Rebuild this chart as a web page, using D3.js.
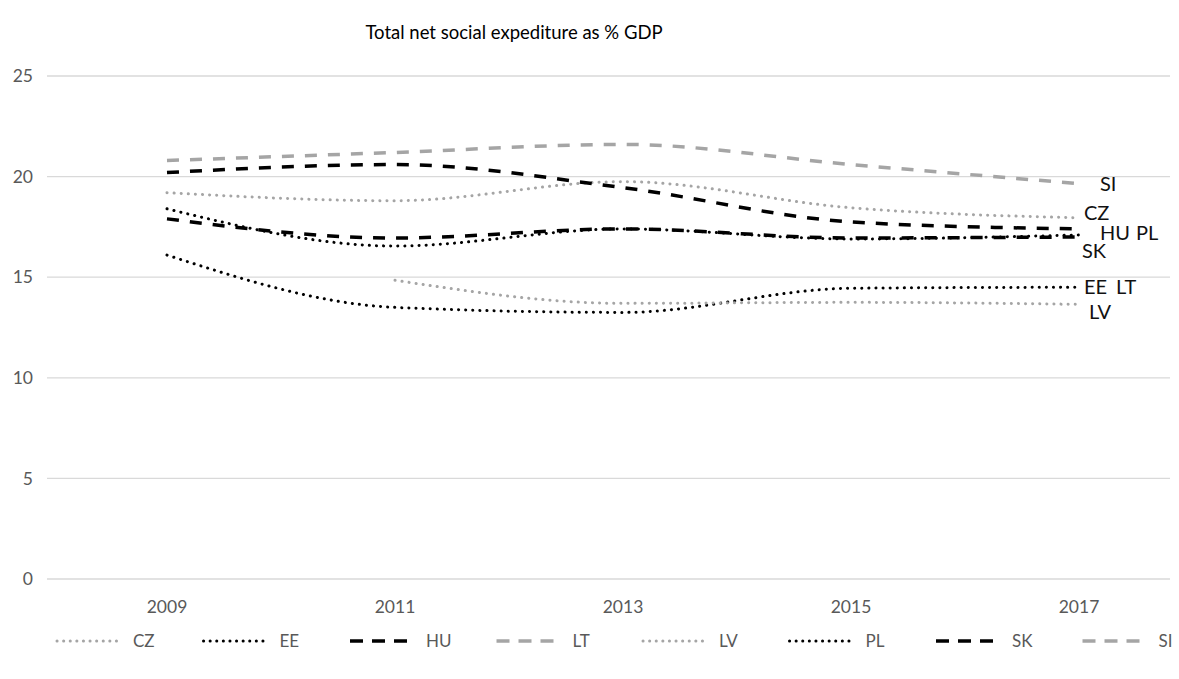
<!DOCTYPE html>
<meta charset="utf-8">

<style>
body { margin: 0; background: #fff; }
svg text { font-family: Lato, "Open Sans", sans-serif; }
.tick-label { fill: #595959; font-size: 17.5px; }
.legend text { fill: #595959; font-size: 17px; }
.title { font-size: 18.5px; fill: #000; }
.end-label { font-size: 20px; fill: #111; }
</style>

<svg class="chart" width="1179" height="679"></svg>

<script src="https://d3js.org/d3.v7.min.js"></script>

<script>

// data
var years = ["2009", "2011", "2013", "2015", "2017"];
var yTicks = [0, 5, 10, 15, 20, 25];
var countries = ["CZ", "EE", "HU", "LT", "LV", "PL", "SK", "SI"];

var CZ = [19.2, 18.8, 19.75, 18.45, 17.95];
var EE = [16.1, 13.5, 13.25, 14.45, 14.5];
var HU = [20.2, 20.6, 19.45, 17.75, 17.4];
var LT = [null, null, null, null, 14.5];
var LV = [null, 14.85, 13.7, 13.75, 13.65];
var PL = [18.4, 16.55, 17.4, 16.9, 17.1];
var SK = [17.9, 16.95, 17.4, 16.95, 17.0];
var SI = [20.8, 21.2, 21.6, 20.6, 19.65];

var values = { CZ: CZ, EE: EE, HU: HU, LT: LT, LV: LV, PL: PL, SK: SK, SI: SI };

// styles
var grey = "#A5A5A5";
var styles = {
  CZ: { color: grey,   dash: "0.1 7",  cap: "round", width: 3 },
  EE: { color: "#000", dash: "0.1 7",  cap: "round", width: 3 },
  HU: { color: "#000", dash: "12 11",  cap: "butt",  width: 3.5 },
  LT: { color: grey,   dash: "12 11",  cap: "butt",  width: 3.5 },
  LV: { color: grey,   dash: "0.1 7",  cap: "round", width: 3 },
  PL: { color: "#000", dash: "0.1 7",  cap: "round", width: 3 },
  SK: { color: "#000", dash: "12 11",  cap: "butt",  width: 3.5 },
  SI: { color: grey,   dash: "12 11",  cap: "butt",  width: 3.5 }
};

// nudges of the end labels (Excel moved them apart)
var labelNudge = {
  SI: [21, 0], CZ: [5, -5], HU: [21, 4], PL: [57, -2],
  SK: [3, 14], EE: [5, 0], LT: [37, 0], LV: [10, 8]
};

var svg = d3.select("svg.chart");

var x = d3.scaleBand().domain(years).range([53, 1193]);
var y = d3.scaleLinear().domain([0, 25]).range([579, 76]);
var cx = function(yr) { return x(yr) + x.bandwidth() / 2; };

// title
svg.append("text")
  .attr("class", "title")
  .attr("x", 514)
  .attr("y", 39)
  .attr("text-anchor", "middle")
  .text("Total net social expediture as % GDP");

// gridlines + y labels
var grid = svg.append("g");
grid.selectAll("line")
  .data(yTicks)
  .join("line")
    .attr("x1", 47)
    .attr("x2", 1170)
    .attr("y1", function(d) { return y(d); })
    .attr("y2", function(d) { return y(d); })
    .attr("stroke", "#D9D9D9")
    .attr("stroke-width", 1.3);

grid.selectAll("text")
  .data(yTicks)
  .join("text")
    .attr("class", "tick-label")
    .attr("x", 33)
    .attr("y", function(d) { return y(d); })
    .attr("dy", "0.35em")
    .attr("text-anchor", "end")
    .text(function(d) { return d; });

// x labels
svg.append("g").selectAll("text")
  .data(years)
  .join("text")
    .attr("class", "tick-label")
    .attr("x", cx)
    .attr("y", 607)
    .attr("dy", "0.35em")
    .attr("text-anchor", "middle")
    .text(function(d) { return d; });

// lines
var line = d3.line()
  .defined(function(d) { return d[1] != null; })
  .x(function(d) { return cx(d[0]); })
  .y(function(d) { return y(d[1]); })
  .curve(d3.curveMonotoneX);

var plot = svg.append("g");
countries.forEach(function(c) {
  var pts = years.map(function(yr, i) { return [yr, values[c][i]]; });
  var s = styles[c];
  plot.append("path")
    .datum(pts)
    .attr("fill", "none")
    .attr("stroke", s.color)
    .attr("stroke-width", s.width)
    .attr("stroke-dasharray", s.dash)
    .attr("stroke-linecap", s.cap)
    .attr("d", line);
});

// end labels
var last = years[years.length - 1];
svg.append("g").selectAll("text")
  .data(countries)
  .join("text")
    .attr("class", "end-label")
    .attr("x", function(c) { return cx(last) + labelNudge[c][0]; })
    .attr("y", function(c) { return y(values[c][years.length - 1]) + labelNudge[c][1]; })
    .attr("dy", "0.35em")
    .text(function(c) { return c; });

// legend
var legend = svg.append("g").attr("class", "legend");
var item = legend.selectAll("g")
  .data(countries)
  .join("g")
    .attr("transform", function(c, i) { return "translate(" + (57 + i * 146.5) + ",641)"; });

item.append("line")
  .attr("x1", 0)
  .attr("x2", 62)
  .attr("stroke", function(c) { return styles[c].color; })
  .attr("stroke-width", function(c) { return styles[c].width; })
  .attr("stroke-dasharray", function(c) { return styles[c].cap === "round" ? "0.1 6.5" : "13 9"; })
  .attr("stroke-linecap", function(c) { return styles[c].cap; });

item.append("text")
  .attr("x", 76)
  .attr("dy", "0.35em")
  .text(function(c) { return c; });

</script>
